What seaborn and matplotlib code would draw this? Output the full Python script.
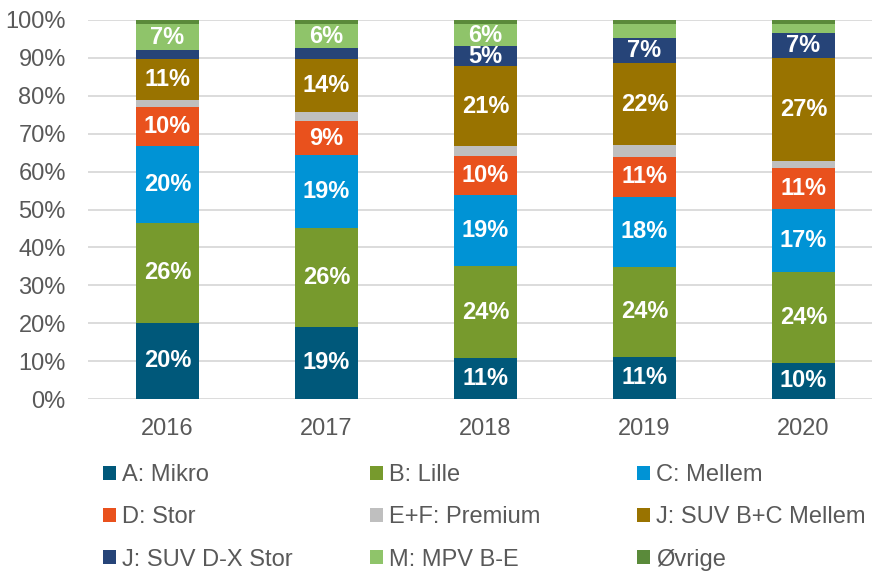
import pandas as pd
import matplotlib
matplotlib.use('Agg')
import matplotlib.pyplot as plt
import seaborn as sns
from matplotlib.patches import Patch

# Andel af salget pr. segment (%)
years = ['2016', '2017', '2018', '2019', '2020']
segments = ['A: Mikro', 'B: Lille', 'C: Mellem', 'D: Stor', 'E+F: Premium',
            'J: SUV B+C Mellem', 'J: SUV D-X Stor', 'M: MPV B-E', 'Øvrige']
mikro = [20.1, 19.0, 10.7, 11.1, 9.6]
lille = [26.4, 26.2, 24.4, 23.8, 24.0]
mellem = [20.3, 19.1, 18.7, 18.4, 16.6]
stor = [10.2, 9.1, 10.4, 10.6, 10.7]
premium = [1.8, 2.2, 2.5, 3.0, 2.0]
suv_bc = [10.8, 14.0, 21.1, 21.7, 27.2]
suv_dx = [2.5, 2.9, 5.3, 6.6, 6.6]
mpv = [6.8, 6.4, 5.8, 3.7, 2.2]
ovrige = [1.1, 1.1, 1.1, 1.1, 1.1]

colors = ['#00587a', '#779a2d', '#0093d5', '#e9511d', '#bfbfbf',
          '#997300', '#264478', '#8fc46a', '#5a8a3a']

df = pd.DataFrame(dict(zip(segments, [mikro, lille, mellem, stor, premium,
                                      suv_bc, suv_dx, mpv, ovrige])), index=years)
cum = df.cumsum(axis=1)

sns.set_style('white')
plt.rcParams['font.family'] = ['Liberation Sans', 'DejaVu Sans']
grey = '#595959'

fig = plt.figure(figsize=(8.72, 5.73), dpi=100)
ax = fig.add_axes([88 / 872, 1 - 399 / 573, 795 / 872, 379 / 573])

# stablede søjler: tegn kumulative summer fra toppen og ned
for seg, col in reversed(list(zip(segments, colors))):
    sns.barplot(x=years, y=cum[seg].values, color=col, saturation=1,
                width=0.4, linewidth=0, ax=ax, zorder=2)

# etiketter i søjlerne
for i, yr in enumerate(years):
    for seg in segments:
        v = df.loc[yr, seg]
        if v >= 4.5:
            ax.text(i, cum.loc[yr, seg] - v / 2, f'{v:.0f}%', ha='center', va='center',
                    color='white', fontsize=17, fontweight='bold', zorder=3)

ax.set_xlim(-0.5, 4.5)
ax.set_ylim(0, 100)
ax.set_yticks(range(0, 101, 10))
ax.set_yticklabels([f'{t}%' for t in range(0, 101, 10)])
ax.yaxis.grid(True, color='#d9d9d9', linewidth=1.3, zorder=0)
ax.set_axisbelow(True)
for s in ax.spines.values():
    s.set_visible(False)
ax.tick_params(axis='y', length=0, pad=16, labelsize=17, labelcolor=grey)
ax.tick_params(axis='x', length=0, pad=14, labelsize=17, labelcolor=grey)
ax.set_xlabel('')
ax.set_ylabel('')

# forklaring i tre kolonner
handles = [Patch(facecolor=c, edgecolor='none') for c in colors]
col_x = [103, 370, 637]
for k in range(3):
    idx = [k, k + 3, k + 6]
    fig.legend([handles[j] for j in idx], [segments[j] for j in idx],
               loc='upper left', bbox_to_anchor=(col_x[k] / 872, 1 - 464 / 573),
               frameon=False, fontsize=17, labelcolor=grey,
               handlelength=0.55, handleheight=0.55, handletextpad=0.25,
               labelspacing=0.86, borderpad=0, borderaxespad=0)

fig.savefig('out.png', dpi=100)
